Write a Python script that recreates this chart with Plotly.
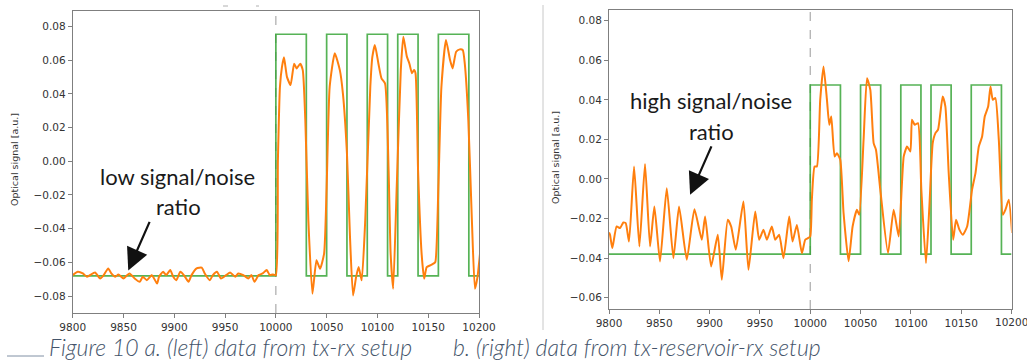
import plotly.graph_objects as go

# ---------------- data ----------------
x_ticks = [9800, 9850, 9900, 9950, 10000, 10050, 10100, 10150, 10200]
x_ticktext = ["9800", "9850", "9900", "9950", "10000", "10050", "10100", "10150", "10200"]
left_y_ticks = [0.08, 0.06, 0.04, 0.02, 0.0, -0.02, -0.04, -0.06, -0.08]
left_y_ticktext = ["0.08", "0.06", "0.04", "0.02", "0.00", "\u22120.02", "\u22120.04", "\u22120.06", "\u22120.08"]
right_y_ticks = [0.08, 0.06, 0.04, 0.02, 0.0, -0.02, -0.04, -0.06]
right_y_ticktext = ["0.08", "0.06", "0.04", "0.02", "0.00", "\u22120.02", "\u22120.04", "\u22120.06"]

# transmitted bit pattern (green square wave), x of each level change
bits_x = [9800, 10000, 10030, 10050, 10070, 10090, 10110, 10120, 10140, 10160, 10190, 10200]
bits_level = [0, 1, 0, 1, 0, 1, 0, 1, 0, 1, 0, 0]
left_low, left_high = -0.068, 0.0755
right_low, right_high = -0.038, 0.0475

# left panel: received signal (orange)
left_x = [9800, 9805, 9810, 9814, 9817, 9822, 9827, 9830, 9835, 9838, 9842, 9845, 9850,
          9853, 9856, 9861, 9866, 9869, 9873, 9878, 9883, 9885, 9889, 9892, 9896, 9899,
          9902, 9906, 9910, 9914, 9917, 9922, 9927, 9930, 9935, 9938, 9942, 9946, 9951,
          9955, 9960, 9963, 9968, 9973, 9976, 9979, 9983, 9987, 9991, 9994, 9997, 10000,
          10002, 10004, 10006, 10008, 10011, 10014.5, 10018, 10020.5, 10024, 10026.5,
          10029, 10032, 10036, 10040, 10043.5, 10047.5, 10050, 10053, 10058, 10063, 10066,
          10070, 10073, 10076, 10079, 10081.5, 10084.5, 10088, 10093, 10095, 10097.5,
          10101, 10104, 10107.5, 10111, 10113, 10115.5, 10119, 10123, 10125.5, 10129,
          10131.5, 10134, 10136, 10137.5, 10140, 10143.5, 10146, 10148.5, 10152, 10155,
          10157, 10160, 10163, 10167.5, 10171.5, 10174, 10177.5, 10181, 10184, 10186,
          10189.5, 10193, 10196, 10198.5, 10201]
left_y = [-0.0676, -0.0656, -0.0666, -0.0686, -0.0676, -0.0660, -0.0696, -0.0680, -0.0636,
          -0.0666, -0.0686, -0.0672, -0.0696, -0.0680, -0.0666, -0.0696, -0.0716, -0.0686,
          -0.0706, -0.0676, -0.0726, -0.0686, -0.0656, -0.0676, -0.0646, -0.0686, -0.0706,
          -0.0656, -0.0680, -0.0716, -0.0676, -0.0636, -0.0632, -0.0666, -0.0706, -0.0676,
          -0.0656, -0.0696, -0.0676, -0.0660, -0.0686, -0.0666, -0.0676, -0.0696, -0.0676,
          -0.0716, -0.0676, -0.0666, -0.0646, -0.0676, -0.0672, -0.0676,
          0.0000, 0.0440, 0.0560, 0.0618, 0.0500, 0.0453, 0.0580, 0.0552, 0.0580, 0.0542,
          0.0245, -0.0350, -0.0786, -0.0588, -0.0638, -0.0548, -0.0152, 0.0443, 0.0642,
          0.0542, 0.0404, 0.0047, -0.0450, -0.0797, -0.0688, -0.0628, -0.0707, -0.0350,
          0.0443, 0.0620, 0.0691, 0.0580, 0.0493, 0.0463, -0.0053, -0.0548, -0.0757,
          -0.0152, 0.0542, 0.0740, 0.0622, 0.0580, 0.0523, 0.0542, 0.0523, -0.0053,
          -0.0548, -0.0697, -0.0628, -0.0618, -0.0608, -0.0598, -0.0152, 0.0443, 0.0721,
          0.0602, 0.0552, 0.0651, 0.0665, 0.0661, 0.0580, 0.0245, -0.0350, -0.0757,
          -0.0688, -0.0548]

# right panel: received signal (orange)
right_x = [9800, 9801, 9803.3, 9807.6, 9811, 9814.2, 9816.6, 9819.9, 9824.9, 9830.2, 9835.8,
           9840.8, 9845.1, 9850.7, 9857.4, 9864, 9869.6, 9877.3, 9884.9, 9892.2, 9895.5,
           9901.5, 9908.1, 9912.1, 9918, 9921.4, 9926, 9933.6, 9938.6, 9945.3, 9949.2,
           9953.5, 9956.9, 9961.8, 9965.2, 9969.1, 9973.4, 9979.1, 9982.4, 9986.7, 9991.7,
           9995, 9997.7, 10000, 10001.6, 10004.3, 10006.6, 10009.9, 10013.2, 10016.6,
           10018.9, 10020.9, 10024.2, 10026.5, 10029.8, 10033.1, 10038.1, 10042.1,
           10046.4, 10048.7, 10053, 10056.4, 10059.7, 10063, 10065.3, 10069.6, 10077.3,
           10082.9, 10087.9, 10092.9, 10096.2, 10099.5, 10101.1, 10103.8, 10107.1,
           10110.4, 10115, 10118.4, 10121.7, 10124.4, 10127, 10131.6, 10134.3, 10137.6,
           10142, 10144.9, 10148.2, 10151.6, 10155.9, 10160.8, 10164.2, 10167.5, 10170.8,
           10173.4, 10176.8, 10179.1, 10181.4, 10184, 10187.4, 10191.4, 10194, 10197.3,
           10200.6]
right_y = [-0.0270, -0.0282, -0.0349, -0.0240, -0.0248, -0.0220, -0.0223, -0.0316, 0.0063,
           -0.0341, 0.0076, -0.0341, -0.0139, -0.0417, -0.0047, -0.0400, -0.0139, -0.0408,
           -0.0153, -0.0307, -0.0190, -0.0442, -0.0282, -0.0509, -0.0206, -0.0240, -0.0358,
           -0.0114, -0.0459, -0.0164, -0.0307, -0.0257, -0.0307, -0.0240, -0.0307, -0.0282,
           -0.0400, -0.0190, -0.0316, -0.0232, -0.0375, -0.0307, -0.0299, -0.0290, -0.0105,
           0.0063, 0.0063, 0.0400, 0.0568, 0.0400, 0.0274, 0.0316, 0.0114, 0.0130, 0.0097,
           -0.0172, -0.0416, -0.0240, -0.0155, -0.0181, 0.0198, 0.0509, 0.0450, 0.0181,
           0.0148, -0.0054, -0.0374, -0.0155, -0.0290, 0.0114, 0.0164, 0.0139, 0.0299,
           0.0274, 0.0282, -0.0054, -0.0425, -0.0138, 0.0181, 0.0232, 0.0249, 0.0417,
           0.0366, 0.0030, -0.0307, -0.0206, -0.0256, -0.0282, -0.0240, -0.0054, 0.0030,
           0.0164, 0.0215, 0.0316, 0.0366, 0.0467, 0.0400, 0.0409, 0.0198, -0.0181, -0.0155,
           -0.0105, -0.0273]

y_title = "Optical signal [a.u.]"
caption_a = "Figure 10 a. (left) data from tx-rx setup"
caption_b = "b. (right) data from tx-reservoir-rx setup"

# ---------------- figure ----------------
W, H = 1027, 360
ORANGE, GREEN = "#ff7f0e", "#2ca02c"

left_green = [left_high if b else left_low for b in bits_level]
right_green = [right_high if b else right_low for b in bits_level]

fig = go.Figure()
fig.add_trace(go.Scatter(x=bits_x, y=left_green, mode="lines", line=dict(color=GREEN, width=1.7, shape="hv"),
                         opacity=0.8, xaxis="x", yaxis="y", hoverinfo="skip"))
fig.add_trace(go.Scatter(x=left_x, y=left_y, mode="lines", line=dict(color=ORANGE, width=2, shape="spline", smoothing=0.5),
                         xaxis="x", yaxis="y"))
fig.add_trace(go.Scatter(x=bits_x, y=right_green, mode="lines", line=dict(color=GREEN, width=1.7, shape="hv"),
                         opacity=0.8, xaxis="x2", yaxis="y2", hoverinfo="skip"))
fig.add_trace(go.Scatter(x=right_x, y=right_y, mode="lines", line=dict(color=ORANGE, width=2, shape="spline", smoothing=0.5),
                         xaxis="x2", yaxis="y2"))

tick_font = dict(family="DejaVu Sans", size=10.5, color="#333333")
axis_common = dict(showline=True, mirror=True, linecolor="#7f7f7f", linewidth=1,
                   ticks="outside", ticklen=4, tickcolor="#7f7f7f", showgrid=False,
                   zeroline=False, tickfont=tick_font, automargin=False)

fig.update_layout(
    width=W, height=H,
    margin=dict(l=0, r=0, t=0, b=0),
    paper_bgcolor="white", plot_bgcolor="white",
    showlegend=False,
    xaxis=dict(domain=[72.7 / W, 479.0 / W], range=[9800, 10200], anchor="y",
               tickvals=x_ticks, ticktext=x_ticktext, **axis_common),
    yaxis=dict(domain=[(H - 313) / H, (H - 11) / H], range=[-0.0901, 0.0893], anchor="x",
               tickvals=left_y_ticks, ticktext=left_y_ticktext, **axis_common),
    xaxis2=dict(domain=[609.0 / W, 1011.5 / W], range=[9800, 10200], anchor="y2",
                tickvals=x_ticks, ticktext=x_ticktext, **axis_common),
    yaxis2=dict(domain=[(H - 309) / H, (H - 10) / H], range=[-0.0657, 0.0854], anchor="x2",
                tickvals=right_y_ticks, ticktext=right_y_ticktext, **axis_common),
)

shapes = [
    dict(type="line", xref="x", yref="y domain", x0=10000, x1=10000, y0=0, y1=1,
         line=dict(color="#aaaaaa", width=1.2, dash="dash"), layer="below"),
    dict(type="line", xref="x2", yref="y2 domain", x0=10000, x1=10000, y0=0, y1=1,
         line=dict(color="#aaaaaa", width=1.2, dash="dash"), layer="below"),
    # divider between the two pictures
    dict(type="line", xref="paper", yref="paper", x0=543 / W, x1=543 / W, y0=(H - 330) / H, y1=(H - 5) / H,
         line=dict(color="#c8c8c8", width=1)),
    # small remnants above left panel
    dict(type="line", xref="paper", yref="paper", x0=223 / W, x1=228 / W, y0=(H - 6) / H, y1=(H - 6) / H,
         line=dict(color="#b0b0b0", width=1)),
    dict(type="line", xref="paper", yref="paper", x0=256 / W, x1=259 / W, y0=(H - 6) / H, y1=(H - 6) / H,
         line=dict(color="#b0b0b0", width=1)),
    # caption leading underline
    dict(type="line", xref="paper", yref="paper", x0=7 / W, x1=44 / W, y0=(H - 356) / H, y1=(H - 356) / H,
         line=dict(color="#8090a4", width=1)),
]
fig.update_layout(shapes=shapes)

note_font = dict(family="Lato", size=22, color="#1a1a1a")
annotations = [
    # y-axis titles
    dict(text=y_title, xref="paper", yref="paper", x=14 / W, y=(H - 160) / H, textangle=-90,
         showarrow=False, font=dict(family="DejaVu Sans", size=9.5, color="#333333"),
         xanchor="center", yanchor="middle"),
    dict(text=y_title, xref="paper", yref="paper", x=555 / W, y=(H - 158) / H, textangle=-90,
         showarrow=False, font=dict(family="DejaVu Sans", size=9.5, color="#333333"),
         xanchor="center", yanchor="middle"),
    # partially cut last tick label on the right panel
    dict(text=x_ticktext[-1], xref="paper", yref="paper", x=1011.5 / W, y=(H - 322) / H,
         showarrow=False, font=tick_font, xanchor="center", yanchor="middle"),
    # notes
    dict(text="low signal/noise", xref="paper", yref="paper", x=177 / W, y=(H - 176) / H,
         showarrow=False, font=note_font, xanchor="center", yanchor="middle"),
    dict(text="ratio", xref="paper", yref="paper", x=178 / W, y=(H - 207) / H,
         showarrow=False, font=note_font, xanchor="center", yanchor="middle"),
    dict(text="high signal/noise", xref="paper", yref="paper", x=711 / W, y=(H - 100) / H,
         showarrow=False, font=note_font, xanchor="center", yanchor="middle"),
    dict(text="ratio", xref="paper", yref="paper", x=711 / W, y=(H - 131) / H,
         showarrow=False, font=note_font, xanchor="center", yanchor="middle"),
    # arrows
    dict(text="", xref="x", yref="y", x=9854.7, y=-0.0648, ax=22, ay=-50,
         showarrow=True, arrowhead=2, arrowsize=2.0, arrowwidth=2.2, arrowcolor="#111111"),
    dict(text="", xref="x2", yref="y2", x=9880.6, y=-0.008, ax=22, ay=-50,
         showarrow=True, arrowhead=2, arrowsize=2.0, arrowwidth=2.2, arrowcolor="#111111"),
    # caption
    dict(text="<i>" + caption_a + "</i>", xref="paper", yref="paper", x=47 / W, y=(H - 347) / H,
         showarrow=False, font=dict(family="Lato", size=23, color="#44546a", weight=300),
         xanchor="left", yanchor="middle"),
    dict(text="<i>" + caption_b + "</i>", xref="paper", yref="paper", x=451 / W, y=(H - 347) / H,
         showarrow=False, font=dict(family="Lato", size=23, color="#44546a", weight=300),
         xanchor="left", yanchor="middle"),
]
fig.update_layout(annotations=annotations)

fig.write_html("out.html")
